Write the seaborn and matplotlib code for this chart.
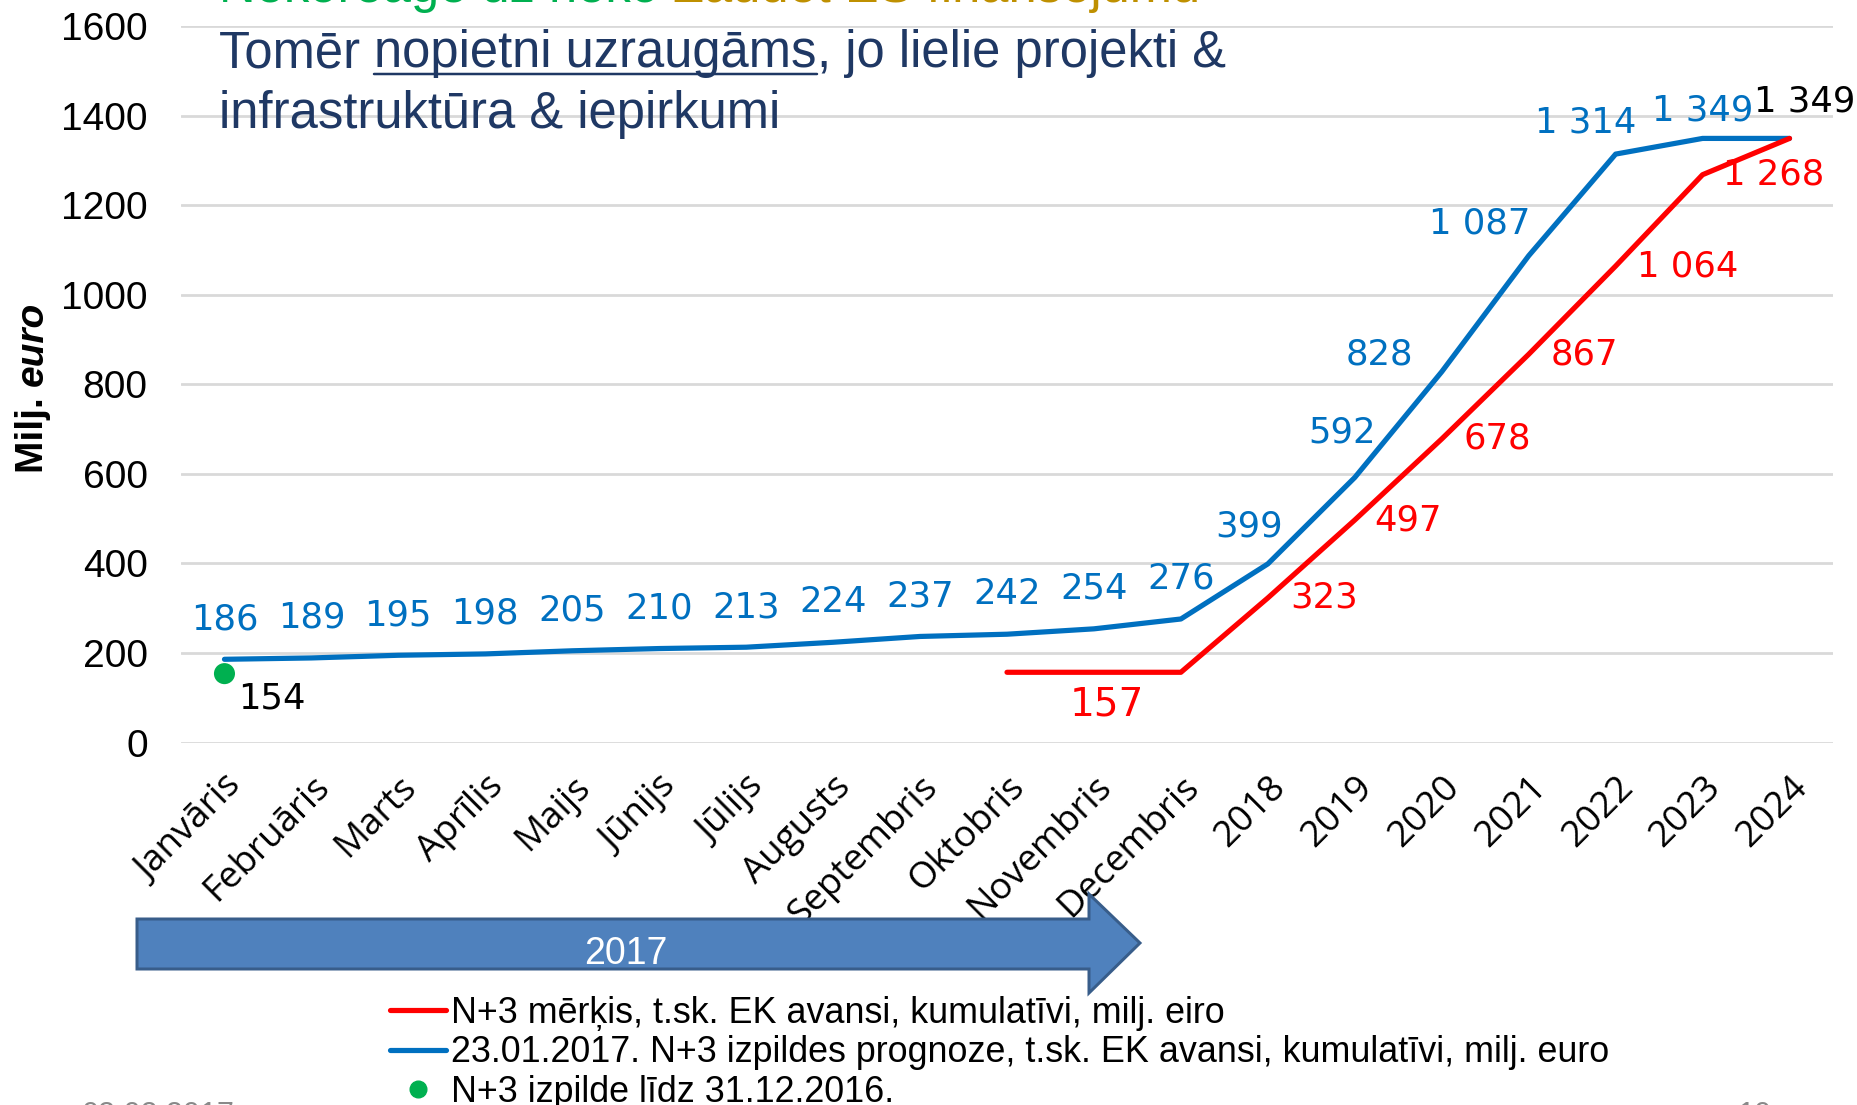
import numpy as np
import pandas as pd
import matplotlib
matplotlib.use("Agg")
import matplotlib.pyplot as plt
import seaborn as sns
from matplotlib.patches import Polygon
from matplotlib.lines import Line2D

# dati no slaida
kategorijas = ['Janvāris', 'Februāris', 'Marts', 'Aprīlis', 'Maijs', 'Jūnijs', 'Jūlijs',
               'Augusts', 'Septembris', 'Oktobris', 'Novembris', 'Decembris',
               '2018', '2019', '2020', '2021', '2022', '2023', '2024']
prognoze = [186, 189, 195, 198, 205, 210, 213, 224, 237, 242, 254, 276,
            399, 592, 828, 1087, 1314, 1349, 1349]
merkis = [np.nan] * 9 + [157, 157, 157, 323, 497, 678, 867, 1064, 1268, 1349]
izpilde_kat = ['Janvāris']
izpilde = [154]

leg_merkis = 'N+3 mērķis, t.sk. EK avansi, kumulatīvi, milj. eiro'
leg_prognoze = '23.01.2017. N+3 izpildes prognoze, t.sk. EK avansi, kumulatīvi, milj. euro'
leg_izpilde = 'N+3 izpilde līdz 31.12.2016.'

ZILS = '#0070C0'
SARK = '#FF0000'
ZALS = '#00B050'
PX = 0.72  # pikseli -> punkti pie dpi 100
W, H = 1857, 1105

df = pd.DataFrame({'x': np.arange(len(kategorijas)), 'kat': kategorijas,
                   'prognoze': prognoze, 'merkis': merkis})
df_izp = pd.DataFrame({'x': [kategorijas.index(k) for k in izpilde_kat], 'v': izpilde})

sns.set_theme(style="white")
plt.rcParams['font.family'] = ['Liberation Sans', 'DejaVu Sans']
plt.rcParams['text.color'] = 'black'
plt.rcParams['xtick.color'] = 'black'
plt.rcParams['ytick.color'] = 'black'

fig = plt.figure(figsize=(W / 100, H / 100), dpi=100)
ax = fig.add_axes([181 / W, 1 - 742.6 / H, (1833 - 181) / W, (742.6 - 26) / H])

sns.lineplot(data=df, x='x', y='prognoze', color=ZILS, linewidth=4 * PX * 1.3, ax=ax)
sns.lineplot(data=df.dropna(), x='x', y='merkis', color=SARK, linewidth=4 * PX * 1.3, ax=ax)
sns.scatterplot(data=df_izp, x='x', y='v', color=ZALS, s=230, edgecolor='none', ax=ax, zorder=5)

ax.set_xlim(-0.5, len(kategorijas) - 0.5)
ax.set_ylim(0, 1600)
ax.set_yticks(range(0, 1601, 200))
ax.yaxis.grid(True, color='#D9D9D9', linewidth=2)
ax.set_axisbelow(True)
for s in ax.spines.values():
    s.set_visible(False)
ax.set_xlabel('')
ax.set_ylabel('')
ax.set_xticks(df['x'])
ax.set_xticklabels(kategorijas, rotation=45, ha='right', rotation_mode='anchor',
                   fontsize=26.5, family=['Open Sans', 'DejaVu Sans'])
ax.tick_params(axis='x', length=0, pad=19, labelcolor='black')
ax.tick_params(axis='y', length=0, pad=24, labelsize=28, labelcolor='black')

# etiķetes - zilā līnija
fmt = lambda v: f"{int(v):,}".replace(",", " ")
zils_nobide = {12: (-19, 37), 13: (-13, 45), 14: (-62, 17), 15: (-49, 32), 16: (-30, 32), 17: (0, 28)}
for i, v in enumerate(prognoze):
    if i == 18:
        continue
    dx, dy = zils_nobide.get(i, (0, 40))
    ax.annotate(fmt(v), (i, v), xytext=(dx * PX, dy * PX), textcoords='offset points',
                ha='center', va='center', color=ZILS, fontsize=25.5,
                family=['DejaVu Sans'])

# etiķetes - sarkanā līnija
sark_nobide = {12: 56, 13: 53, 14: 56, 15: 56, 16: 72, 17: 71}
for i, v in enumerate(merkis):
    if i in sark_nobide:
        ax.annotate(fmt(v), (i, v), xytext=(sark_nobide[i] * PX, 0), textcoords='offset points',
                    ha='center', va='center', color=SARK, fontsize=25.5, family=['DejaVu Sans'])
ax.annotate(fmt(merkis[10]), (10, merkis[10]), xytext=(13 * PX, -32 * PX), textcoords='offset points',
            ha='center', va='center', color=SARK, fontsize=28, family=['DejaVu Sans'])
ax.annotate(fmt(merkis[18]), (18, merkis[18]), xytext=(15 * PX, 37 * PX), textcoords='offset points',
            ha='center', va='center', color='black', fontsize=25.5, family=['DejaVu Sans'])
ax.annotate(fmt(izpilde[0]), (df_izp['x'][0], izpilde[0]), xytext=(47 * PX, -25 * PX),
            textcoords='offset points', ha='center', va='center', color='black', fontsize=25.5,
            family=['DejaVu Sans'])

r = fig.canvas.get_renderer()

# y ass nosaukums
ym1 = fig.text(33 / W, 1 - 473 / H, 'Milj. ', rotation=90, ha='center', va='bottom',
               fontsize=28, fontweight='bold', color='black')
top = ym1.get_window_extent(r).y1
fig.text(33 / W, top / H, 'euro', rotation=90, ha='center', va='bottom',
         fontsize=28, fontweight='bold', style='italic', color='black')

# virsraksta teksts (augšējā rinda ir nogriezta slaidā)
tf = 36.5
tg = fig.text(219 / W, 1 - 2 / H, 'Nekoreaģē uz neko ', color=ZALS, fontsize=tf, va='baseline')
fig.text(tg.get_window_extent(r).x1 / W, 1 - 2 / H, 'Zaudēt ES finansējumu',
         color='#BF9000', fontsize=tf, va='baseline')
NAVY = '#1F3864'
y1 = 1 - 67 / H
t1 = fig.text(219 / W, y1, 'Tomēr ', color=NAVY, fontsize=tf, va='baseline')
x_px = t1.get_window_extent(r).x1
t2 = fig.text(x_px / W, y1, 'nopietni uzraugāms', color=NAVY, fontsize=tf, va='baseline')
bb = t2.get_window_extent(r)
fig.add_artist(Line2D([bb.x0 / W, bb.x1 / W], [1 - 74 / H] * 2, color=NAVY,
                      linewidth=2.5 * PX, transform=fig.transFigure))
fig.text(bb.x1 / W, y1, ', jo lielie projekti &', color=NAVY, fontsize=tf, va='baseline')
fig.text(219 / W, 1 - 128 / H, 'infrastruktūra & iepirkumi', color=NAVY, fontsize=tf, va='baseline')

# bulta ar 2017
bulta = [(137, 919), (1089, 919), (1089, 894), (1140, 943), (1089, 993), (1089, 969), (137, 969)]
fig.add_artist(Polygon([(x / W, 1 - y / H) for x, y in bulta], closed=True,
                       facecolor='#4F81BD', edgecolor='#385D8A', linewidth=3 * PX,
                       transform=fig.transFigure))
fig.text(626 / W, 1 - 954 / H, '2017', color='white', fontsize=27, ha='center', va='center')

# leģenda
h = [Line2D([], [], color=SARK, linewidth=4 * PX * 1.3),
     Line2D([], [], color=ZILS, linewidth=4 * PX * 1.3),
     Line2D([], [], color=ZALS, marker='o', linestyle='none', markersize=12)]
leg = fig.legend(h, [leg_merkis, leg_prognoze, leg_izpilde], loc='upper left',
                 bbox_to_anchor=(390 / W, 1 - 996 / H), frameon=False, fontsize=25.8,
                 handlelength=1.55, handletextpad=0.15, labelspacing=0.12, borderpad=0,
                 borderaxespad=0, labelcolor='black')

fig.text(82 / W, 1 - 1101 / H, '03.02.2017', color='#898989', fontsize=22, va='top')
fig.text(1738 / W, 1 - 1101 / H, '10', color='#898989', fontsize=22, va='top')

fig.savefig('out.png', dpi=100)
